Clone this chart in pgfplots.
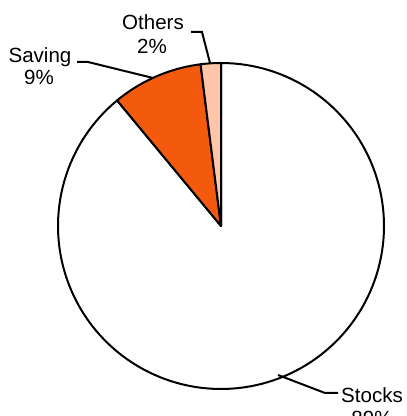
\documentclass[border=0pt]{standalone}
\usepackage{pgfplots}
\pgfplotsset{compat=1.18}
\usepackage{fontspec}
\setmainfont{Liberation Sans}
\definecolor{savingc}{RGB}{243,90,14}
\definecolor{othersc}{RGB}{255,197,171}
% data: shares in percent
\def\pOthers{2}
\def\pSaving{9}
\def\pStocks{89}
\newcommand{\lf}{\fontsize{15.4}{18}\selectfont}
\begin{document}
\begin{tikzpicture}
\useasboundingbox (0,0) rectangle (304.5pt,312pt);
\pgfmathsetmacro{\aA}{90}
\pgfmathsetmacro{\aB}{\aA+3.6*\pOthers}
\pgfmathsetmacro{\aC}{\aB+3.6*\pSaving}
\pgfmathsetmacro{\aD}{\aC+3.6*\pStocks}
\begin{axis}[at={(0,0)},anchor=south west,scale only axis,
  width=304.5pt,height=312pt,xmin=0,xmax=406,ymin=0,ymax=416,
  hide axis,clip=false]
\addplot[fill=white,draw=black,line width=1.5pt,domain=\aC:\aD,samples=150,line join=round]
  ({221+163*cos(x)},{190+163*sin(x)}) -- (axis cs:221,190) -- cycle;
\addplot[fill=savingc,draw=black,line width=1.5pt,domain=\aB:\aC,samples=30,line join=round]
  ({221+163*cos(x)},{190+163*sin(x)}) -- (axis cs:221,190) -- cycle;
\addplot[fill=othersc,draw=black,line width=1.5pt,domain=\aA:\aB,samples=10,line join=round]
  ({221+163*cos(x)},{190+163*sin(x)}) -- (axis cs:221,190) -- cycle;
% leader lines
\addplot[black,line width=1.5pt] coordinates {(191,384) (202,384) (210,353)};
\addplot[black,line width=1.5pt] coordinates {(77,354) (88,354) (153,338)};
\addplot[black,line width=1.5pt] coordinates {(278,41) (325,23) (338,23)};
% labels
\node[anchor=base,font=\lf] at (axis cs:153,386) {Others};
\node[anchor=base,font=\lf] at (axis cs:152,362) {2\%};
\node[anchor=base,font=\lf] at (axis cs:40,353) {Saving};
\node[anchor=base,font=\lf] at (axis cs:39,331) {9\%};
\node[anchor=base,font=\lf] at (axis cs:372,13) {Stocks};
\node[anchor=base,font=\lf] at (axis cs:372,-9) {89\%};
\end{axis}
\end{tikzpicture}
\end{document}
